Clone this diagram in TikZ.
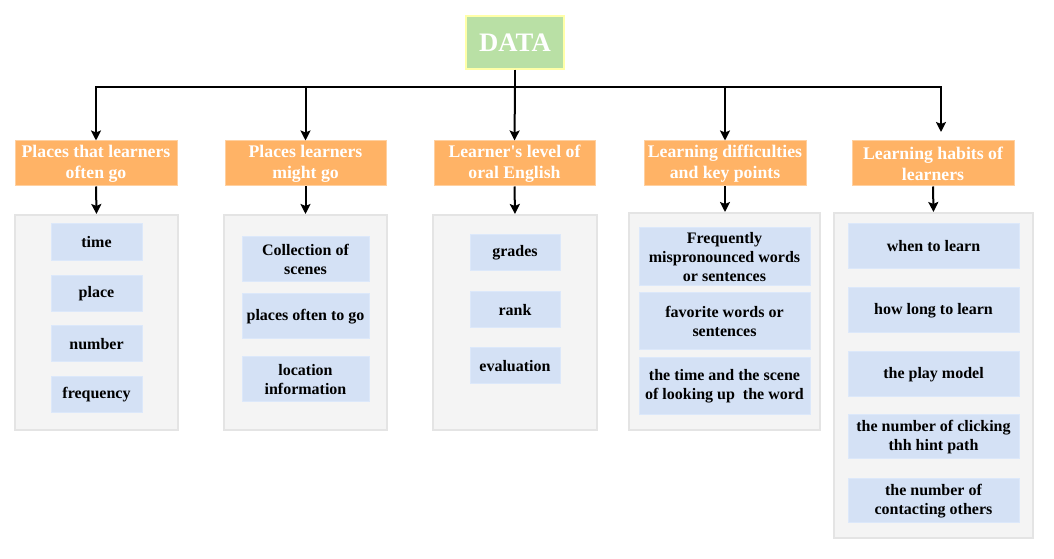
\documentclass[tikz,border=0pt]{standalone}
\usepackage{fontspec}
\setmainfont{Liberation Serif}[Ligatures=TeXOff]
\usetikzlibrary{arrows.meta}
\definecolor{dgreen}{HTML}{B9E0A5}
\definecolor{dyel}{HTML}{FFFFA8}
\definecolor{orfill}{HTML}{FFB366}
\definecolor{ordraw}{HTML}{FFD0A0}
\definecolor{grfill}{HTML}{F4F4F4}
\definecolor{grdraw}{HTML}{E4E4E4}
\definecolor{blfill}{HTML}{D4E1F5}
\definecolor{bldraw}{HTML}{DCE8FA}
\newcommand\bx[7]{\node[#6, minimum width={(#4-#2)*0.75pt}, minimum height={(#5-#3)*0.75pt}] (#1) at ({(#2+#4)/2},{(#3+#5)/2}) {#7};}
\tikzset{
  root/.style={fill=dgreen, draw=dyel, line width=1pt, text=white, inner sep=0pt, font=\fontsize{20}{24}\selectfont\bfseries},
  head/.style={fill=orfill, draw=ordraw, line width=0.75pt, text=white, inner sep=0pt, align=center, font=\fontsize{13.3}{15.75}\selectfont\bfseries},
  panel/.style={fill=grfill, draw=grdraw, line width=1.5pt, inner sep=0pt},
  item/.style={fill=blfill, draw=bldraw, line width=0.75pt, inner sep=0pt, align=center, font=\fontsize{12}{14.25}\selectfont\bfseries},
  conn/.style={line width=1.5pt},
  arr/.style={line width=1.5pt, -{Stealth[length=7.5pt,width=7.5pt,inset=1.5pt]}}
}
\begin{document}
\begin{tikzpicture}[x=0.75pt,y=-0.75pt]
\useasboundingbox (0,0) rectangle (1054,559);
% root
\bx{data}{466}{16}{564}{69}{root}{DATA}
% heads
\bx{h1}{15}{141}{177}{186}{head}{Places that learners\\often go}
\bx{h2}{225}{141}{386}{186}{head}{Places learners\\might go}
\bx{h3}{434}{141}{595}{186}{head}{Learner's level of\\oral English}
\bx{h4}{644}{141}{806}{186}{head}{Learning difficulties\\and key points}
\bx{h5}{852}{141}{1014}{186}{head}{Learning habits of\\learners}
% panels
\bx{p1}{15}{215}{178}{430}{panel}{}
\bx{p2}{224}{215}{387}{430}{panel}{}
\bx{p3}{433}{215}{597}{430}{panel}{}
\bx{p4}{629}{213}{820}{430}{panel}{}
\bx{p5}{834}{213}{1033}{538}{panel}{}
% column 1
\bx{a1}{51}{224}{142}{261}{item}{time}
\bx{a2}{51}{276}{142}{312}{item}{place}
\bx{a3}{51}{326}{142}{362}{item}{number}
\bx{a4}{51}{377}{142}{413}{item}{frequency}
% column 2
\bx{b1}{242}{237}{369}{282}{item}{Collection of\\scenes}
\bx{b2}{242}{294}{369}{339}{item}{places often to go}
\bx{b3}{242}{357}{369}{402}{item}{location\\information}
% column 3
\bx{c1}{470}{235}{560}{271}{item}{grades}
\bx{c2}{470}{292}{560}{328}{item}{rank}
\bx{c3}{470}{348}{560}{384}{item}{evaluation}
% column 4
\bx{d1}{639}{228}{810}{286}{item}{Frequently\\mispronounced words\\or sentences}
\bx{d2}{639}{293}{810}{350}{item}{favorite words or\\sentences}
\bx{d3}{639}{358}{810}{415}{item}{the time and the scene\\of looking up\ \ the word}
% column 5
\bx{e1}{848}{224}{1019}{269}{item}{when to learn}
\bx{e2}{848}{288}{1019}{333}{item}{how long to learn}
\bx{e3}{848}{352}{1019}{397}{item}{the play model}
\bx{e4}{848}{415}{1019}{459}{item}{the number of clicking\\thh hint path}
\bx{e5}{848}{479}{1019}{523}{item}{the number of\\contacting others}
% connectors
\coordinate (j) at (515,87);
\coordinate (t5) at (941,132);
\draw[conn] (data.south) -- (j);
\draw[arr] (j) -| (h1.north);
\draw[arr] (j) -| (h2.north);
\draw[arr] (j) -- (h3.north);
\draw[arr] (j) -| (h4.north);
\draw[arr] (j) -| (t5);
\draw[arr] (h1.south) -- (p1.north);
\draw[arr] (h2.south) -- (p2.north);
\draw[arr] (h3.south) -- (p3.north);
\draw[arr] (h4.south) -- (h4.south |- p4.north);
\draw[arr] (h5.south) -- (p5.north);
\end{tikzpicture}
\end{document}
